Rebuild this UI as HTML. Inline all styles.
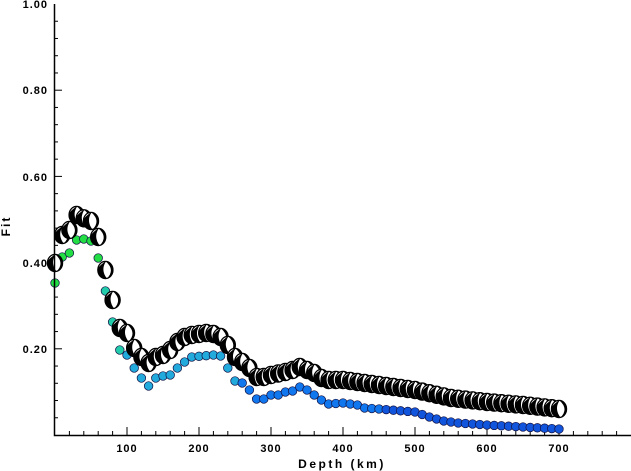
<!DOCTYPE html>
<html><head><meta charset="utf-8"><style>
html,body{margin:0;padding:0;background:#fff;width:631px;height:471px;overflow:hidden}
svg{display:block}
text{font-family:"Liberation Sans",sans-serif;font-weight:bold;font-size:11px;fill:#000;letter-spacing:1px}
</style></head><body>
<svg id="s" width="631" height="471" viewBox="0 0 631 471" xmlns="http://www.w3.org/2000/svg">
<g id="ticks" stroke="#000" stroke-width="1"></g>
<g id="col"></g>
<g id="blk"></g>
<path d="M54.5 4V435.5H631" fill="none" stroke="#000" stroke-width="1.5"/>
<text x="48" y="8" text-anchor="end">1.00</text>
<text x="48" y="94" text-anchor="end">0.80</text>
<text x="48" y="181" text-anchor="end">0.60</text>
<text x="48" y="267" text-anchor="end">0.40</text>
<text x="48" y="353" text-anchor="end">0.20</text>
<text x="127" y="452" text-anchor="middle">100</text>
<text x="199" y="452" text-anchor="middle">200</text>
<text x="271" y="452" text-anchor="middle">300</text>
<text x="343" y="452" text-anchor="middle">400</text>
<text x="415" y="452" text-anchor="middle">500</text>
<text x="487" y="452" text-anchor="middle">600</text>
<text x="559" y="452" text-anchor="middle">700</text>
<text x="342" y="468" text-anchor="middle" style="font-size:12px;letter-spacing:2.5px">Depth (km)</text>
<text transform="translate(10,226) rotate(-90)" text-anchor="middle" style="font-size:12px;letter-spacing:2px">Fit</text>
</svg>
<script>
var NS="http://www.w3.org/2000/svg";
function X(d){return 55+d*0.72}
function el(p,t,a){var e=document.createElementNS(NS,t);for(var k in a)e.setAttribute(k,a[k]);p.appendChild(e);return e}
var tk=document.getElementById("ticks");
for(var d=20;d<800;d+=20){var x=X(d);el(tk,"line",{x1:x,x2:x,y1:435,y2:d%100==0?427:431})}
for(var i=1;i<25;i++){var y=435-i*17.24;el(tk,"line",{x1:54,x2:i%5==0?62:58,y1:y,y2:y})}
var B=[[0,263],[5,235],[15,235],[20,230],[25,220],[30,215],[35,217],[50,221],[60,237],[70,270],[80,300],[90,328],[100,333],[110,348],[120,357],[130,363],[140,357],[150,355],[160,350],[170,342],[180,337],[190,335],[210,333],[220,334],[230,337],[240,345],[250,357],[260,362],[270,368],[280,377],[290,377],[300,375],[320,372],[330,370],[340,367],[350,370],[360,373],[370,378],[380,380],[400,380],[450,385],[500,390],[550,398],[600,402],[650,405],[700,409]];
var C=[[0,283],[5,250],[10,257],[15,258],[20,253],[25,238],[30,240],[35,238],[50,241],[60,258],[70,291],[80,322],[90,350],[100,355],[110,368],[120,378],[130,386],[140,378],[150,376],[160,375],[170,368],[180,362],[190,357],[220,355],[230,356],[240,368],[250,381],[260,383],[270,390],[280,399],[290,399],[300,395],[310,395],[320,392],[330,391],[340,387],[350,390],[360,395],[370,400],[380,404],[400,403],[420,405],[430,408],[450,409],[500,412],[520,417],[540,421],[560,423],[600,425],[650,427],[700,429]];
function interp(P,d){for(var i=0;i<P.length-1;i++){if(d>=P[i][0]&&d<=P[i+1][0]){var t=(d-P[i][0])/(P[i+1][0]-P[i][0]);return P[i][1]+t*(P[i+1][1]-P[i][1])}}return P[P.length-1][1]}
function col(d){if(d<=60)return"#22dd44";if(d<=90)return"#22ccaa";if(d<=250)return"#22aadd";if(d<=450)return"#1177ee";return"#1155dd"}
var cg=document.getElementById("col");
for(var d=0;d<=700;d+=10){el(cg,"circle",{cx:X(d),cy:interp(C,d),r:4.3,fill:col(d),stroke:"#114","stroke-width":0.7})}
var bg=document.getElementById("blk");
for(var d=0;d<=700;d+=10){var x=X(d),y=interp(B,d);
el(bg,"ellipse",{cx:x,cy:y,rx:8,ry:9,fill:"#000"});
el(bg,"path",{d:"M"+(x+0.5)+" "+(y-8.5)+"Q"+(x-5)+" "+y+" "+(x+1.5)+" "+(y+8.5)+"Q"+(x+10)+" "+y+" "+(x+0.5)+" "+(y-8.5)+"Z",fill:"#fff"});
el(bg,"path",{d:"M"+(x-7.5)+" "+(y-2)+"Q"+(x-4)+" "+(y-9)+" "+(x-1)+" "+(y-8)+"Q"+(x-5)+" "+(y-5)+" "+(x-7.5)+" "+(y-2)+"Z",fill:"#fff"});
el(bg,"ellipse",{cx:x,cy:y,rx:7.6,ry:8.6,fill:"none",stroke:"#000","stroke-width":1.2});}
</script>
</body></html>
